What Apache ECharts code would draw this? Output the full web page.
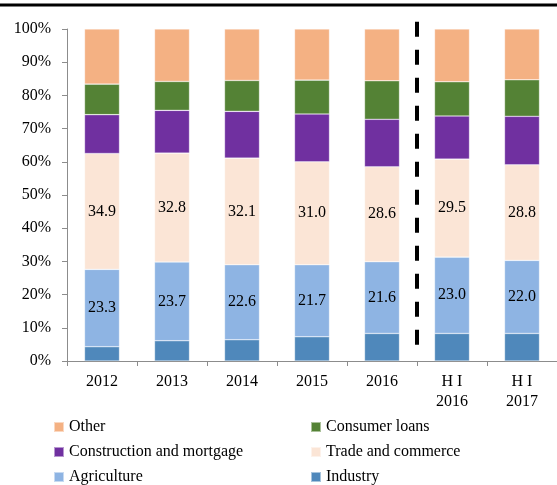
<!DOCTYPE html>
<html>
<head>
<meta charset="utf-8">
<script src="https://cdn.jsdelivr.net/npm/echarts@6/dist/echarts.min.js"></script>
<style>
    html, body { margin: 0; padding: 0; background: #fff; }
    #chart { width: 557px; height: 485px; }
</style>
</head>
<body>
<div id="chart"></div>
<script>
// 数据
var categories = ['2012', '2013', '2014', '2015', '2016', 'H I\n2016', 'H I\n2017']
var industry = [4.3, 6.1, 6.4, 7.3, 8.3, 8.3, 8.3]
var agriculture = [23.3, 23.7, 22.6, 21.7, 21.6, 23.0, 22.0]
var trade = [34.9, 32.8, 32.1, 31.0, 28.6, 29.5, 28.8]
var construction = [11.7, 12.9, 14.1, 14.4, 14.3, 13.0, 14.6]
var consumer = [9.2, 8.7, 9.3, 10.2, 11.6, 10.3, 11.0]
var other = [16.6, 15.8, 15.5, 15.4, 15.6, 15.9, 15.3]
var yTicks = [0, 10, 20, 30, 40, 50, 60, 70, 80, 90, 100]
// 虚线分隔位置 (2016 与 H I 2016 之间)
var dividerAt = 5

// 常量
var font = 'Liberation Serif'
var axisColor = '#8c8c8c'

function barSeries(name, data, color, labeled) {
    return {
        name: name,
        type: 'bar',
        stack: 'total',
        barWidth: 35,
        itemStyle: {
            color: color,
            borderColor: 'rgba(255,255,255,0.5)',
            borderWidth: 0.6
        },
        label: {
            show: labeled,
            position: 'inside',
            color: '#000',
            fontFamily: font,
            fontSize: 16,
            formatter: function (p) {
                return p.value.toFixed(1)
            }
        },
        data: data
    }
}

function legendColumn(left, names) {
    return {
        orient: 'vertical',
        left: left,
        top: 419,
        height: 90,
        padding: 0,
        itemWidth: 10,
        itemHeight: 10,
        itemGap: 9,
        icon: 'rect',
        selectedMode: false,
        data: names,
        textStyle: { fontFamily: font, fontSize: 16, lineHeight: 16, color: '#000' }
    }
}

var option = {
    animation: false,
    backgroundColor: '#fff',
    grid: {
        left: 67,
        right: -7,
        top: 29,
        bottom: 124,
        containLabel: false
    },
    legend: [
        legendColumn(53, ['Other', 'Construction and mortgage', 'Agriculture']),
        legendColumn(310, ['Consumer loans', 'Trade and commerce', 'Industry'])
    ],
    xAxis: [
        {
            type: 'category',
            data: categories,
            boundaryGap: true,
            axisLine: { lineStyle: { color: axisColor, width: 1 } },
            axisTick: { show: true, length: 5, lineStyle: { color: axisColor } },
            axisLabel: {
                color: '#000',
                fontFamily: font,
                fontSize: 16,
                lineHeight: 20,
                margin: 11,
                interval: 0
            }
        },
        {
            // 隐藏的数值轴, 用来定位虚线
            type: 'value',
            min: 0,
            max: categories.length,
            show: false
        }
    ],
    yAxis: {
        type: 'value',
        min: yTicks[0],
        max: yTicks[yTicks.length - 1],
        interval: 10,
        splitLine: { show: false },
        axisLine: { show: true, lineStyle: { color: axisColor, width: 1 } },
        axisTick: { show: true, inside: false, length: 5, lineStyle: { color: axisColor } },
        axisLabel: {
            color: '#000',
            fontFamily: font,
            fontSize: 16,
            margin: 16,
            formatter: '{value}%'
        }
    },
    series: [
        barSeries('Industry', industry, '#4F88BB', false),
        barSeries('Agriculture', agriculture, '#8EB4E3', true),
        barSeries('Trade and commerce', trade, '#FBE5D6', true),
        barSeries('Construction and mortgage', construction, '#7030A0', false),
        barSeries('Consumer loans', consumer, '#548235', false),
        barSeries('Other', other, '#F4B183', false),
        {
            name: 'divider',
            type: 'line',
            xAxisIndex: 1,
            yAxisIndex: 0,
            clip: false,
            symbol: 'none',
            silent: true,
            lineStyle: { color: '#000', width: 4, type: [15, 13], cap: 'butt' },
            data: [[dividerAt, 102.2], [dividerAt, 4.8]]
        }
    ],
    graphic: [
        {
            type: 'line',
            shape: { x1: 0, y1: 5, x2: 557, y2: 5 },
            style: { stroke: '#000', lineWidth: 3 }
        }
    ]
}

var chart = echarts.init(document.getElementById('chart'))
chart.setOption(option)
</script>
</body>
</html>
